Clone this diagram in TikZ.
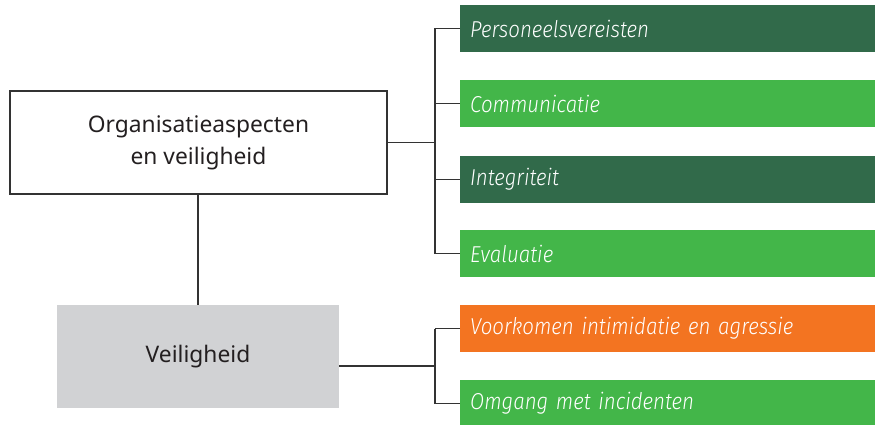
\documentclass[tikz,border=0pt]{standalone}
\usepackage{fontspec}
\setmainfont{Noto Sans}
\newfontfamily\boxfont{Fira Sans Light}[FakeStretch=0.89]
\definecolor{darkgreen}{HTML}{316A4A}
\definecolor{lightgreen}{HTML}{43B649}
\definecolor{orangebox}{HTML}{F37421}
\definecolor{graybox}{HTML}{D1D2D4}
\definecolor{textdark}{HTML}{231F20}
\definecolor{linegray}{HTML}{333333}
\begin{document}
\begin{tikzpicture}[x=1pt,y=-1pt,
  mainbox/.style={rectangle, inner sep=0pt, text=textdark, align=center,
    font=\fontsize{22.8}{32}\selectfont},
  itembox/.style={rectangle, inner ysep=0pt, inner xsep=10pt, minimum height=47pt,
    text width=395pt, align=left, text=white, anchor=west,
    font=\boxfont\itshape\fontsize{23}{26}\selectfont},
  conn/.style={draw=linegray, line width=1.2pt}]
\useasboundingbox (0,0) rectangle (875,425);
\node[mainbox, draw=linegray, line width=1.2pt, minimum width=377pt, minimum height=103pt] (org) at (198.5,142.5) {Organisatieaspecten\\en veiligheid};
\node[mainbox, fill=graybox, minimum width=282pt, minimum height=103pt] (veil) at (198,356.5) {Veiligheid};
\node[itembox, fill=darkgreen] (p1) at (460,28.5) {Personeelsvereisten};
\node[itembox, fill=lightgreen] (p2) at (460,103.5) {Communicatie};
\node[itembox, fill=darkgreen] (p3) at (460,179.5) {Integriteit};
\node[itembox, fill=lightgreen] (p4) at (460,253.5) {Evaluatie};
\node[itembox, fill=orangebox] (v1) at (460,328.5) {Voorkomen intimidatie en agressie};
\node[itembox, fill=lightgreen] (v2) at (460,403.5) {Omgang met incidenten};
\coordinate (j1) at (435,142.5);
\coordinate (j2) at (435,366);
\draw[conn] (org.east) -- (j1);
\draw[conn] (j1 |- p1.west) -- (j1 |- p4.west);
\foreach \n in {p1,p2,p3,p4} \draw[conn] (j1 |- \n.west) -- (\n.west);
\draw[conn] (org.south -| veil.north) -- (veil.north);
\draw[conn] (veil.east |- j2) -- (j2);
\draw[conn] (j2 |- v1.west) -- (j2 |- v2.west);
\foreach \n in {v1,v2} \draw[conn] (j2 |- \n.west) -- (\n.west);
\end{tikzpicture}
\end{document}
